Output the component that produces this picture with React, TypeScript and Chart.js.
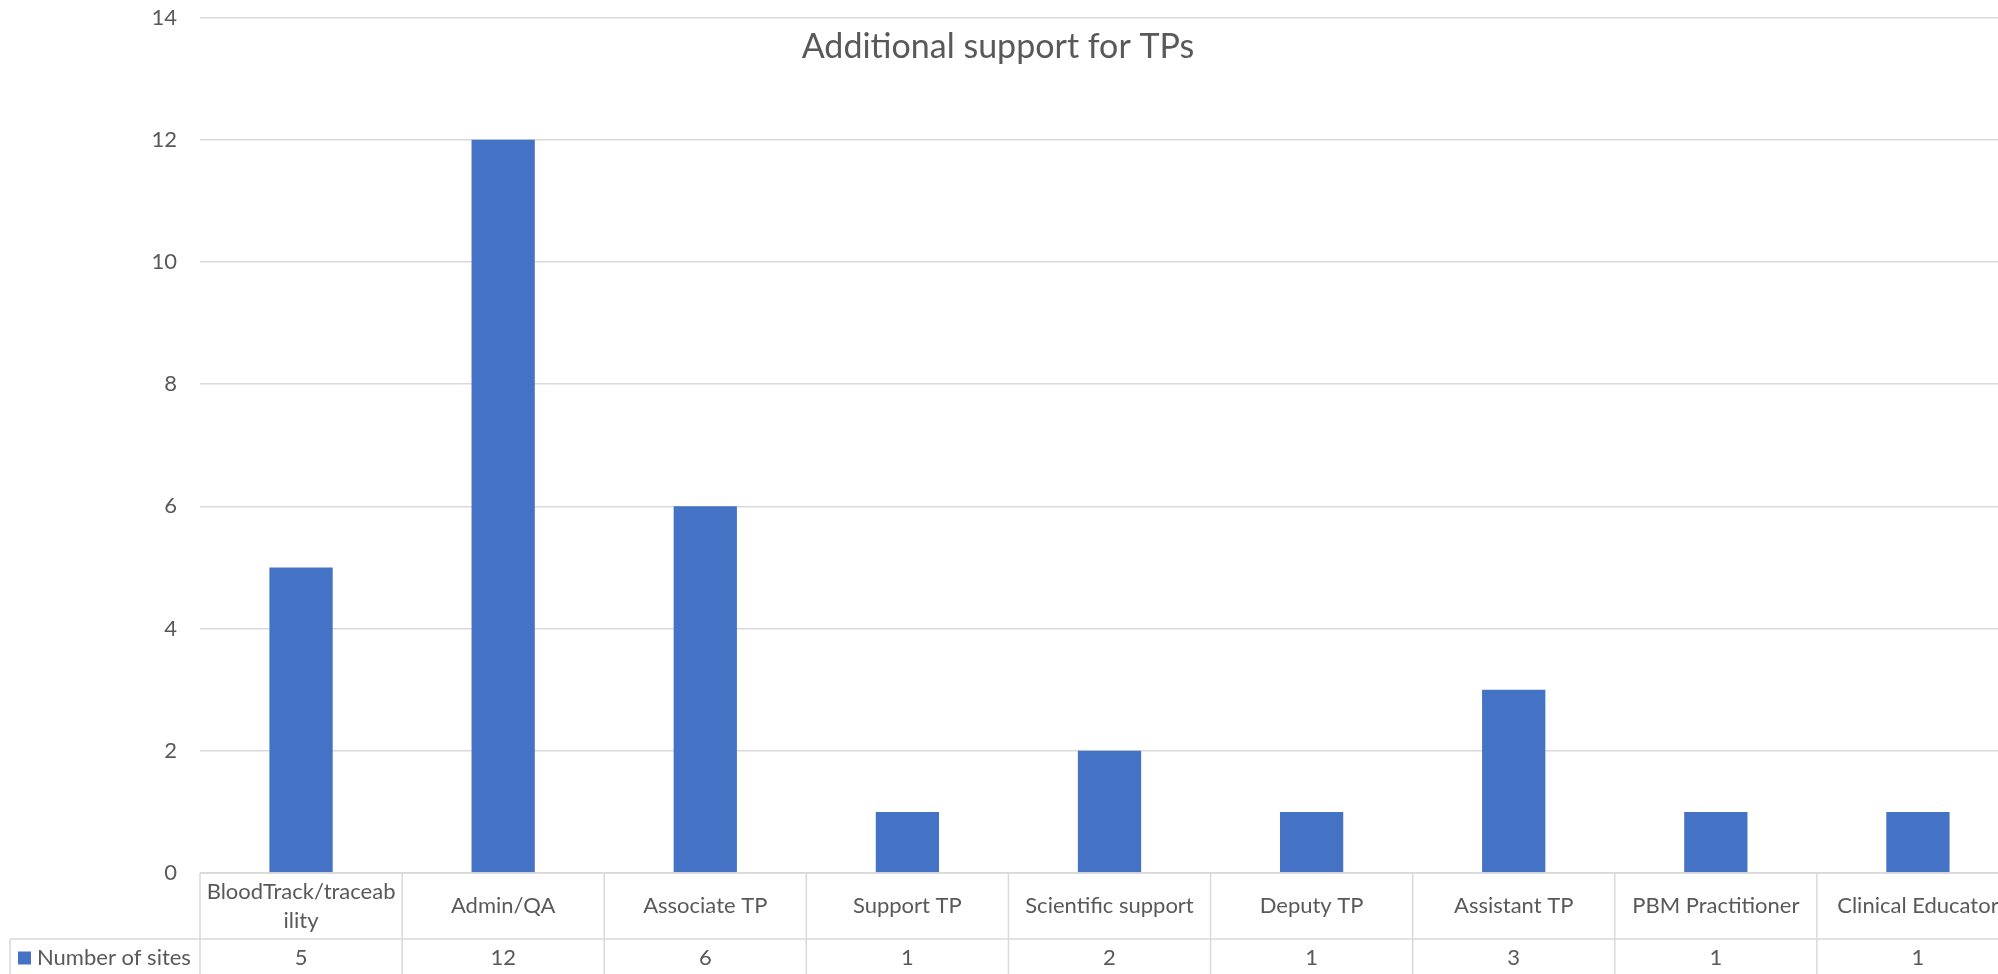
import { useEffect, useRef } from "react";
import { Chart, registerables } from "chart.js";

Chart.register(...registerables);

// Chart content
const chartTitle = "Additional support for TPs";
const seriesName = "Number of sites";
const categories: (string | string[])[] = [
  ["BloodTrack/traceab", "ility"],
  "Admin/QA",
  "Associate TP",
  "Support TP",
  "Scientific support",
  "Deputy TP",
  "Assistant TP",
  "PBM Practitioner",
  "Clinical Educator",
];
const siteCounts = [5, 12, 6, 1, 2, 1, 3, 1, 1];
const yMin = 0;
const yMax = 14;
const yStep = 2;

// Styling
const FONT = "Lato, 'Open Sans', sans-serif";
const TEXT = "#595959";
const GRID = "#D9D9D9";
const BAR = "#4472C4";
const LABEL_SIZE = 22;
const TITLE_SIZE = 34;

const CANVAS_W = 2025;
const CANVAS_H = 980;
const AXIS_W = 200;
const TABLE_ROW1 = 66;
const TABLE_ROW2 = 36;
const TABLE_LEFT = 10;

const dataTablePlugin = {
  id: "dataTable",
  afterDraw(chart: any) {
    const { ctx, chartArea, scales } = chart;
    const xs = scales.x;
    const n = categories.length;
    const colW = (chartArea.right - chartArea.left) / n;
    const top = chartArea.bottom;
    const split = top + TABLE_ROW1;
    const bottom = split + TABLE_ROW2;

    ctx.save();
    ctx.strokeStyle = GRID;
    ctx.lineWidth = 1.5;
    const line = (x1: number, y1: number, x2: number, y2: number) => {
      ctx.beginPath();
      ctx.moveTo(x1, y1);
      ctx.lineTo(x2, y2);
      ctx.stroke();
    };
    line(chartArea.left, top, chartArea.right, top);
    line(TABLE_LEFT, split, chartArea.right, split);
    line(TABLE_LEFT, bottom, chartArea.right, bottom);
    for (let i = 0; i <= n; i++) {
      const xb = chartArea.left + i * colW;
      line(xb, top, xb, bottom);
    }
    line(TABLE_LEFT, split, TABLE_LEFT, bottom);

    ctx.fillStyle = TEXT;
    ctx.font = `${LABEL_SIZE}px ${FONT}`;
    ctx.textAlign = "center";
    ctx.textBaseline = "middle";
    const lineH = 29;
    const rowMid = top + TABLE_ROW1 / 2;
    const valMid = split + TABLE_ROW2 / 2 + 1;
    categories.forEach((cat, i) => {
      const cx = xs.getPixelForValue(i);
      const lines = Array.isArray(cat) ? cat : [cat];
      const startY = rowMid - ((lines.length - 1) * lineH) / 2;
      lines.forEach((t, k) => ctx.fillText(t, cx, startY + k * lineH));
      ctx.fillText(String(siteCounts[i]), cx, valMid);
    });

    // legend key and series name in the first column of the value row
    ctx.fillStyle = BAR;
    ctx.fillRect(18, valMid - 6.5, 13, 13);
    ctx.fillStyle = TEXT;
    ctx.textAlign = "left";
    ctx.fillText(seriesName, 37, valMid);

    // chart title
    ctx.font = `${TITLE_SIZE}px ${FONT}`;
    ctx.textAlign = "center";
    ctx.textBaseline = "alphabetic";
    ctx.fillText(chartTitle, 998, 58);
    ctx.restore();
  },
};

export default function App() {
  const canvasRef = useRef<HTMLCanvasElement | null>(null);

  useEffect(() => {
    document.body.style.margin = "0";
    const canvas = canvasRef.current;
    if (!canvas) return;
    const chart = new Chart(canvas, {
      type: "bar",
      data: {
        labels: categories as any,
        datasets: [
          {
            label: seriesName,
            data: siteCounts,
            backgroundColor: BAR,
            borderWidth: 0,
            categoryPercentage: 1,
            barPercentage: 0.313,
          },
        ],
      },
      options: {
        animation: false,
        responsive: false,
        layout: { padding: { top: 17.5, right: 6, left: 0, bottom: 0 } },
        plugins: {
          legend: { display: false },
          title: { display: false },
          tooltip: { enabled: false },
        },
        scales: {
          x: {
            ticks: { display: false },
            grid: { display: false },
            border: { display: false },
            afterFit: (scale: any) => {
              scale.height = CANVAS_H - 873;
              scale.paddingLeft = 0;
              scale.paddingRight = 0;
            },
          },
          y: {
            min: yMin,
            max: yMax,
            ticks: {
              stepSize: yStep,
              color: TEXT,
              font: { family: FONT, size: LABEL_SIZE },
              padding: 23,
            },
            grid: { color: GRID, lineWidth: 1.5, drawTicks: false },
            border: { display: false },
            afterFit: (scale: any) => {
              scale.width = AXIS_W;
              scale.paddingTop = 0;
              scale.paddingBottom = 0;
            },
          },
        },
      },
      plugins: [dataTablePlugin],
    });
    return () => chart.destroy();
  }, []);

  return (
    <div style={{ width: 1998, height: 974, overflow: "hidden", position: "relative", background: "#fff" }}>
      <canvas ref={canvasRef} width={CANVAS_W} height={CANVAS_H} style={{ display: "block" }} />
    </div>
  );
}
